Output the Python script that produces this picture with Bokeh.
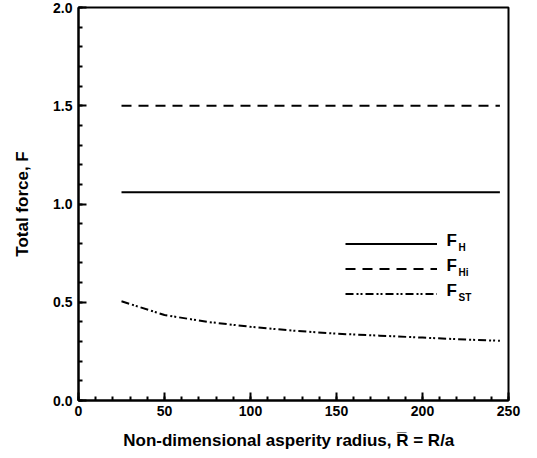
from bokeh.plotting import figure
from bokeh.models import (Range1d, FixedTicker, Legend, LegendItem, Label,
                          NumeralTickFormatter)
from bokeh.embed import file_html
from bokeh.resources import INLINE

# ---- data ----
radius = [25, 50, 75, 100, 125, 150, 175, 200, 225, 245]
F_H = [1.06, 1.06, 1.06, 1.06, 1.06, 1.06, 1.06, 1.06, 1.06, 1.06]
F_Hi = [1.5, 1.5, 1.5, 1.5, 1.5, 1.5, 1.5, 1.5, 1.5, 1.5]
F_ST = [0.505, 0.435, 0.40, 0.375, 0.355, 0.34, 0.33, 0.32, 0.31, 0.304]

x_ticks = [0, 50, 100, 150, 200, 250]
y_ticks = [0.0, 0.5, 1.0, 1.5, 2.0]
x_minor = [v for v in range(0, 251, 10)]
y_minor = [i / 10 for i in range(0, 21)]
legend_subscripts = ["H", "Hi", "ST"]

FONT = "Liberation Sans"

p = figure(width=521, height=452, output_backend="svg", toolbar_location=None,
           x_range=Range1d(0, 250), y_range=Range1d(0, 2.0),
           min_border_left=78, min_border_right=13, min_border_top=7,
           min_border_bottom=50)
p.xgrid.visible = False
p.ygrid.visible = False
p.outline_line_color = "black"
p.outline_line_width = 2
p.outline_line_alpha = 1.0
p.background_fill_color = "white"
p.border_fill_color = "white"

r_h = p.line(radius, F_H, line_color="black", line_width=2)
r_hi = p.line(radius, F_Hi, line_color="black", line_width=2, line_dash="10 7")
r_st = p.line(radius, F_ST, line_color="black", line_width=2, line_dash="8 3 2 2 2 3")

for ax, ticks, minor in ((p.xaxis[0], x_ticks, x_minor), (p.yaxis[0], y_ticks, y_minor)):
    ax.ticker = FixedTicker(ticks=ticks, minor_ticks=minor)
    ax.axis_line_color = "black"
    ax.axis_line_width = 2
    ax.major_tick_line_color = "black"
    ax.major_tick_line_width = 2
    ax.minor_tick_line_color = "black"
    ax.minor_tick_line_width = 2
    ax.major_tick_in = 8
    ax.major_tick_out = 0
    ax.minor_tick_in = 4
    ax.minor_tick_out = 0
    ax.major_label_text_font = FONT
    ax.major_label_text_font_style = "bold"
    ax.major_label_text_font_size = "14px"
    ax.major_label_text_color = "black"
    ax.axis_label_text_font = FONT
    ax.axis_label_text_font_style = "bold"
    ax.axis_label_text_font_size = "17px"
    ax.axis_label_text_color = "black"

p.yaxis[0].formatter = NumeralTickFormatter(format="0.0")
p.yaxis[0].major_label_standoff = 6
p.xaxis[0].major_label_standoff = 5
p.yaxis[0].axis_label = "Total force, F"
p.yaxis[0].axis_label_standoff = 18
p.xaxis[0].axis_label = "Non-dimensional asperity radius,   R\u0305 = R/a"
p.xaxis[0].axis_label_standoff = 12

legend = Legend(items=[LegendItem(label=" ", renderers=[r_h]),
                       LegendItem(label=" ", renderers=[r_hi]),
                       LegendItem(label=" ", renderers=[r_st])],
                location=(267, 94), glyph_width=92, glyph_height=25,
                label_height=25, spacing=0, padding=0, margin=0,
                background_fill_alpha=0, border_line_alpha=0,
                label_text_font_size="1px")
p.add_layout(legend, "center")

for i, sub in enumerate(legend_subscripts):
    yb = 156 - 25 * i  # distance above frame bottom of legend row centre
    p.add_layout(Label(x=368, y=yb - 5, x_units="screen", y_units="screen",
                       text="F", text_font=FONT, text_font_style="bold",
                       text_font_size="17px", text_color="black"))
    p.add_layout(Label(x=380, y=yb - 8, x_units="screen", y_units="screen",
                       text=sub, text_font=FONT, text_font_style="bold",
                       text_font_size="10px", text_color="black"))

open("out.html", "w").write(file_html(p, INLINE))
